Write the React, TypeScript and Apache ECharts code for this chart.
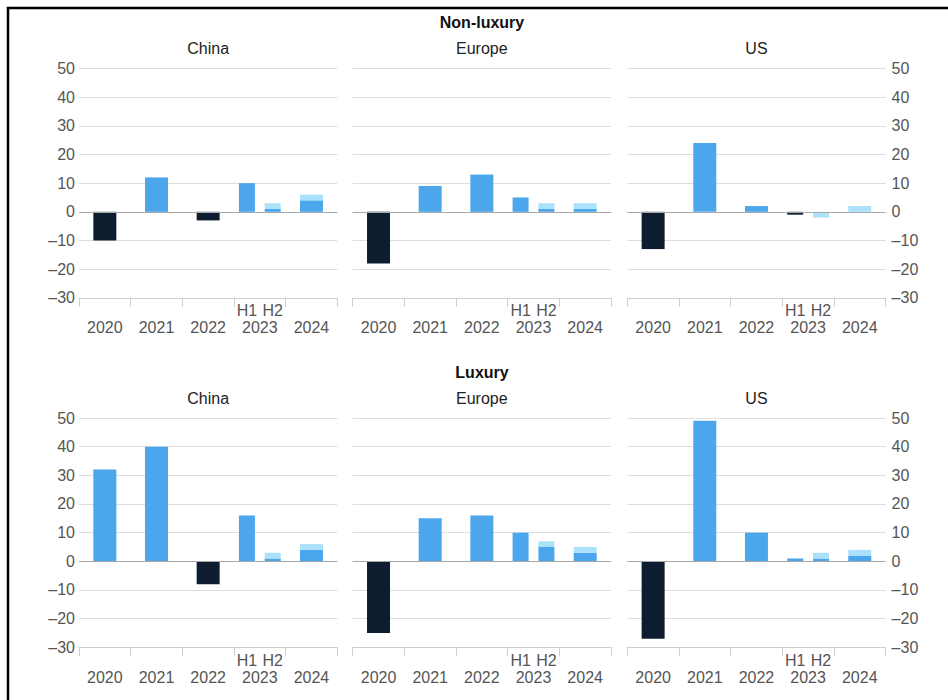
import React, { useEffect, useRef } from "react";
import * as echarts from "echarts";

// ---- data (% growth) ----
const years = ["2020", "2021", "2022", "2023", "2024"];
const halfSlots = ["", "", "", "", "", "", "H1", "H2", "", ""];
const yTicks = { min: -30, max: 50, step: 10 };

const regions = ["China", "Europe", "US"];
const groupTitles = ["Non-luxury", "Luxury"];

// full-year values (2023 is shown as halves)
const nonLuxChinaYears = [-10, 12, -3, null, 4];
const nonLuxEuropeYears = [-18, 9, 13, null, 1];
const nonLuxUSYears = [-13, 24, 2, null, null];
const luxChinaYears = [32, 40, -8, null, 4];
const luxEuropeYears = [-25, 15, 16, null, 3];
const luxUSYears = [-27, 49, 10, null, 2];

// 2023 H1, H2
const nonLuxChinaHalves = [10, 1];
const nonLuxEuropeHalves = [5, 1];
const nonLuxUSHalves = [-1, null];
const luxChinaHalves = [16, 1];
const luxEuropeHalves = [10, 5];
const luxUSHalves = [1, 1];

// upper estimate: H2 2023, 2024
const nonLuxChinaUpper = [3, 6];
const nonLuxEuropeUpper = [3, 3];
const nonLuxUSUpper = [-2, 2];
const luxChinaUpper = [3, 6];
const luxEuropeUpper = [7, 5];
const luxUSUpper = [3, 4];

const panels = [
  { years: nonLuxChinaYears, halves: nonLuxChinaHalves, upper: nonLuxChinaUpper },
  { years: nonLuxEuropeYears, halves: nonLuxEuropeHalves, upper: nonLuxEuropeUpper },
  { years: nonLuxUSYears, halves: nonLuxUSHalves, upper: nonLuxUSUpper },
  { years: luxChinaYears, halves: luxChinaHalves, upper: luxChinaUpper },
  { years: luxEuropeYears, halves: luxEuropeHalves, upper: luxEuropeUpper },
  { years: luxUSYears, halves: luxUSHalves, upper: luxUSUpper },
];

const NAVY = "#0d1c2e";
const BLUE = "#4ba6ec";
const LIGHT = "#abe1fb";
const FONT = "'Liberation Sans', Arial, sans-serif";
const LABEL = "#555";

const colLeft = [79, 352.7, 627.3];
const colWidth = 258.3;
const rowTop = [68.5, 418];
const rowHeight = 229.3;

function colored(v: number | null) {
  if (v === null) return "-";
  return { value: v, itemStyle: { color: v < 0 ? NAVY : BLUE } };
}
const minusFmt = (v: number) => (v < 0 ? "\u2013" + Math.abs(v) : String(v));

export default function App() {
  const ref = useRef<HTMLDivElement>(null);
  useEffect(() => {
    if (!ref.current) return;
    const chart = echarts.init(ref.current, null, { renderer: "svg" });
    const grid: any[] = [];
    const xAxis: any[] = [];
    const yAxis: any[] = [];
    const series: any[] = [];
    const graphic: any[] = [];

    panels.forEach((p, k) => {
      const row = Math.floor(k / 3);
      const col = k % 3;
      grid.push({ left: colLeft[col], top: rowTop[row], width: colWidth, height: rowHeight });
      xAxis.push({
        type: "category",
        gridIndex: k,
        data: years,
        position: "bottom",
        axisLine: { onZero: false, lineStyle: { color: "#cfcfcf" } },
        axisTick: { show: true, length: 9, lineStyle: { color: "#cfcfcf" } },
        axisLabel: { interval: 0, margin: 22, color: LABEL, fontSize: 16, fontFamily: FONT },
      });
      xAxis.push({
        type: "category",
        gridIndex: k,
        data: halfSlots,
        position: "bottom",
        axisLine: { show: false, onZero: false },
        axisTick: { show: false },
        axisLabel: { interval: 0, margin: 5, color: LABEL, fontSize: 16, fontFamily: FONT },
      });
      yAxis.push({
        type: "value",
        gridIndex: k,
        min: yTicks.min,
        max: yTicks.max,
        interval: yTicks.step,
        position: col === 2 ? "right" : "left",
        axisLine: { show: false },
        axisTick: { show: false },
        splitLine: { lineStyle: { color: "#dedede" } },
        axisLabel: {
          show: col !== 1,
          margin: col === 2 ? 6 : 4,
          color: LABEL,
          fontSize: 16,
          fontFamily: FONT,
          formatter: minusFmt,
        },
      });
      const fyExt = p.years.map((v, i) =>
        i === 4 ? p.upper[1] - (v ?? 0) : "-"
      );
      series.push({
        type: "bar",
        xAxisIndex: 2 * k,
        yAxisIndex: k,
        stack: "fy" + k,
        barWidth: 23,
        data: p.years.map(colored),
        markLine: {
          silent: true,
          symbol: "none",
          label: { show: false },
          lineStyle: { color: "#a8a8a8", type: "solid", width: 1 },
          data: [{ yAxis: 0 }],
        },
      });
      series.push({
        type: "bar",
        xAxisIndex: 2 * k,
        yAxisIndex: k,
        stack: "fy" + k,
        barWidth: 23,
        itemStyle: { color: LIGHT },
        data: fyExt,
      });
      const halfBase = halfSlots.map((_, i) =>
        i === 6 ? colored(p.halves[0]) : i === 7 ? colored(p.halves[1]) : "-"
      );
      const halfExt = halfSlots.map((_, i) =>
        i === 7 ? p.upper[0] - (p.halves[1] ?? 0) : "-"
      );
      series.push({
        type: "bar",
        xAxisIndex: 2 * k + 1,
        yAxisIndex: k,
        stack: "h" + k,
        barWidth: 16,
        data: halfBase,
      });
      series.push({
        type: "bar",
        xAxisIndex: 2 * k + 1,
        yAxisIndex: k,
        stack: "h" + k,
        barWidth: 16,
        itemStyle: { color: LIGHT },
        data: halfExt,
      });
    });

    groupTitles.forEach((t, row) => {
      graphic.push({
        type: "text",
        x: 482,
        y: row === 0 ? 22 : 372,
        style: {
          text: t,
          fill: "#111",
          font: `bold 16px ${FONT}`,
          textAlign: "center",
          textVerticalAlign: "middle",
        },
      });
      regions.forEach((r, col) => {
        graphic.push({
          type: "text",
          x: colLeft[col] + colWidth / 2,
          y: row === 0 ? 48 : 398,
          style: {
            text: r,
            fill: "#222",
            font: `16px ${FONT}`,
            textAlign: "center",
            textVerticalAlign: "middle",
          },
        });
      });
    });
    graphic.push({
      type: "rect",
      shape: { x: 8, y: 8, width: 960, height: 720 },
      style: { fill: "none", stroke: "#000", lineWidth: 2.5 },
      silent: true,
    });

    chart.setOption({
      animation: false,
      backgroundColor: "#fff",
      grid,
      xAxis,
      yAxis,
      series,
      graphic,
    });
    return () => chart.dispose();
  }, []);
  return (
    <div
      ref={ref}
      style={{ position: "fixed", left: 0, top: 0, width: 948, height: 700 }}
    />
  );
}
